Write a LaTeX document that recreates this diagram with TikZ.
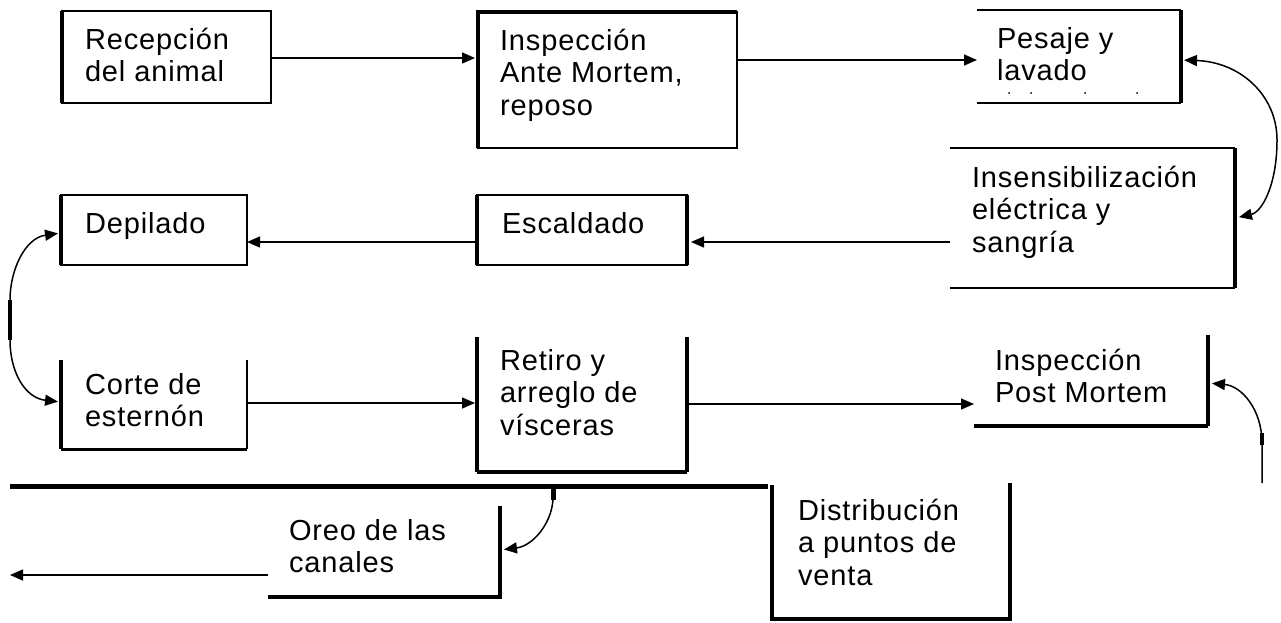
\documentclass[tikz,border=0pt]{standalone}
\usepackage{fontspec}
\setmainfont{Liberation Sans}[LetterSpace=3]
\usetikzlibrary{arrows.meta,fit}
\tikzset{
  boxarea/.style={inner sep=0pt, outer sep=0pt, draw=none},
  txt/.style={inner sep=0pt, outer sep=0pt, anchor=north west, align=left,
              font=\fontsize{29}{32.5}\selectfont},
  thinb/.style={line width=2pt},
  midb/.style={line width=3.5pt},
  thickb/.style={line width=4.5pt},
  conn/.style={line width=1.5pt, -{Triangle[length=13pt,width=11pt]}},
  dconn/.style={line width=1.5pt, {Triangle[length=13pt,width=11pt]}-{Triangle[length=13pt,width=11pt]}},
}
\begin{document}
\begin{tikzpicture}[x=1pt,y=-1pt]
\useasboundingbox (0,0) rectangle (1281,622);

% box areas
\node[boxarea, fit={(62,11) (271,103)}] (rec) {};
\node[boxarea, fit={(478,12) (737,148)}] (insp) {};
\node[boxarea, fit={(977,10) (1181,103)}] (pes) {};
\node[boxarea, fit={(950,148) (1235,288)}] (ins) {};
\node[boxarea, fit={(477,195) (687,265)}] (esc) {};
\node[boxarea, fit={(61,195) (247,265)}] (dep) {};
\node[boxarea, fit={(61,360) (247,449)}] (cor) {};
\node[boxarea, fit={(477,337) (687,472)}] (ret) {};
\node[boxarea, fit={(974,335) (1208,426)}] (pm) {};
\node[boxarea, fit={(772,485) (1010,619)}] (dis) {};
\node[boxarea, fit={(268,506) (500,597)}] (ore) {};

% texts
\node[txt] (recT) at (85,26.25) {\strut Recepción\\del animal};
\node[txt] (inspT) at (500,27.25) {\strut Inspección\\Ante Mortem,\\reposo};
\node[txt] (pesT) at (997,25.25) {\strut Pesaje y\\lavado};
\node[txt] (insT) at (972,164.25) {\strut Insensibilización\\eléctrica y\\sangría};
\node[txt] (escT) at (502,210.25) {\strut Escaldado};
\node[txt] (depT) at (85,210.25) {\strut Depilado};
\node[txt] (corT) at (85,371.25) {\strut Corte de\\esternón};
\node[txt] (retT) at (500,347.25) {\strut Retiro y\\arreglo de\\vísceras};
\node[txt] (pmT) at (995,347.25) {\strut Inspección\\Post Mortem};
\node[txt] (disT) at (798,497.25) {\strut Distribución\\a puntos de\\venta};
\node[txt] (oreT) at (289,517.25) {\strut Oreo de las\\canales};

% borders
\draw[thinb] (rec.north west) rectangle (rec.south east);
\draw[line width=4pt] (rec.north west) -- (rec.south west);

\draw[thinb] (insp.north west) rectangle (insp.south east);
\draw[line width=4pt] (insp.south west) -- (insp.north west) -- (insp.north east);

\draw[thinb] (pes.north west) -- (pes.north east) (pes.south west) -- (pes.south east);
\draw[thickb] (pes.north east) -- (pes.south east);
\fill (1009,93) circle (1pt) (1031,93) circle (1pt) (1085,93) circle (1pt) (1137,93) circle (1pt);

\draw[thinb] (ins.north west) -- (ins.north east) (ins.south west) -- (ins.south east);
\draw[thickb] (ins.north east) -- (ins.south east);

\draw[thinb] (esc.north west) rectangle (esc.south east);
\draw[midb] (esc.north west) -- (esc.south west);
\draw[thickb] (esc.north east) -- (esc.south east);

\draw[thinb] (dep.north west) rectangle (dep.south east);
\draw[line width=4pt] (dep.north west) -- (dep.south west);

\draw[thickb] (cor.north west) -- (cor.south west);
\draw[thinb] (cor.north east) -- (cor.south east);
\draw[line width=3pt] (cor.south west) -- (cor.south east);

\draw[midb] (ret.north west) -- (ret.south west);
\draw[thickb] (ret.north east) -- (ret.south east);
\draw[line width=4pt] (ret.south west) -- (ret.south east);

\draw[thickb] (pm.north east) -- (pm.south east);
\draw[thickb] (pm.south west) -- (pm.south east);

\draw[thickb] (dis.north west) -- (dis.south west) -- (dis.south east) -- ([yshift=2pt]dis.north east);

\draw[thickb] (ore.north east) -- (ore.south east) -- (ore.south west);

% long thick line and stub
\coordinate (lineL) at (10,486);
\coordinate (lineR) at (768,486);
\draw[line width=5pt] (lineL) -- (lineR);
\coordinate (stubTop) at (553,486);
\coordinate (stubEnd) at (553,500);
\draw[line width=5pt] (stubTop) -- (stubEnd);

% connectors
\draw[conn, shorten >=3pt] (rec.east |- 0,58) -- (insp.west |- 0,58);
\draw[conn] (insp.east |- 0,60) -- (pes.west |- 0,60);
\draw[conn, shorten >=4pt] (ins.west |- 0,242) -- (esc.east |- 0,242);
\draw[conn] (esc.west |- 0,242) -- (dep.east |- 0,242);
\draw[conn, shorten >=2pt] (cor.east |- 0,403) -- (ret.west |- 0,403);
\draw[conn] (ret.east |- 0,404) -- (pm.west |- 0,404);

\draw[dconn, shorten <=3pt, shorten >=4pt]
  (pes.east |- 0,60) .. controls (1240,62) and (1277,95) .. (1277,140)
  .. controls (1277,185) and (1262,212) .. (ins.east |- 0,218);

\draw[dconn, shorten <=3pt, shorten >=3pt]
  (dep.west |- 0,233) .. controls (25,238) and (10,270) .. (10,300)
  -- (10,340) .. controls (10,372) and (25,398) .. (cor.west |- 0,402);
\draw[line width=4pt] (10,300) -- (10,340);

\coordinate (pmTail) at (1262,483);
\draw[conn, shorten >=4pt] (pmTail) -- (1262,443)
  .. controls (1262,410) and (1242,386) .. (pm.east |- 0,383);
\draw[midb] (1262,433) -- (1262,445);

\draw[conn, shorten >=4pt] (stubEnd) .. controls (551,525) and (532,546) .. (ore.east |- 0,550);

\coordinate (exitL) at (10,575);
\draw[conn] (ore.west |- exitL) -- (exitL);
\end{tikzpicture}
\end{document}
